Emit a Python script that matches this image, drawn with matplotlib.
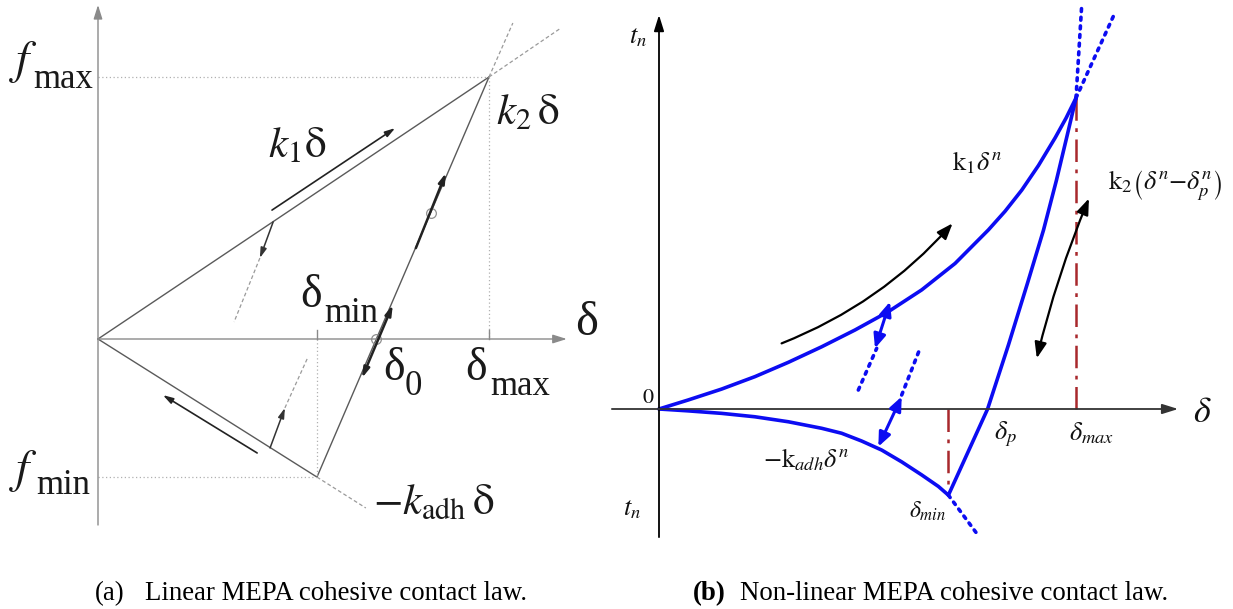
import matplotlib.pyplot as plt

plt.rcParams['mathtext.fontset'] = 'stix'
plt.rcParams['font.family'] = ['Liberation Serif', 'DejaVu Serif']

W, H = 1233, 609

# ---- panel (a): linear law, units delta_max = 1, f_max = 1
A_DMAX, A_FMAX = 1.0, 1.0
A_DMIN, A_FMIN = 0.560, -0.527
A_D0 = 0.712
A_K1_EXT = [1.184, 1.187]      # dashed continuation of k1 line
A_K2_EXT = [1.061, 1.206]      # dashed continuation of k2 line
A_ADH_EXT = [0.685, -0.645]    # dashed continuation of -k_adh line
A_UNLOAD = [[0.448, 0.414, 0.348], [0.447, 0.309, 0.065]]   # start, arrow tip, dashed end
A_RELOAD = [[0.440, 0.478, 0.537], [-0.416, -0.263, -0.069]]
A_K1_ARROW = [[0.445, 0.760], [0.492, 0.805]]
A_ADH_ARROW = [[0.407, 0.166], [-0.435, -0.214]]
A_K2_UP = [[0.813, 0.890], [0.347, 0.634]]
A_K2_LOW = [[0.675, 0.754], [-0.149, 0.130]]
A_CIRCLES = [[0.852, A_D0], [0.481, 0.0]]

# ---- panel (b): non-linear law, units delta_max = 1, t_max = 1
B_DP = 0.788
B_DMIN, B_TMIN = 0.694, -0.277
B_LOAD_D = [0.0, 0.070, 0.150, 0.230, 0.310, 0.390, 0.470, 0.550, 0.630, 0.710, 0.790, 0.830, 0.870, 0.910, 0.950, 0.976, 1.0]
B_LOAD_T = [0.0, 0.029, 0.064, 0.104, 0.150, 0.200, 0.254, 0.313, 0.383, 0.468, 0.576, 0.636, 0.704, 0.783, 0.872, 0.935, 1.0]
B_UNLOAD_D = [B_DMIN, B_DP, 0.838, 0.884, 0.922, 0.953, 0.978, 1.0]
B_UNLOAD_T = [B_TMIN, 0.0, 0.206, 0.406, 0.575, 0.735, 0.875, 1.0]
B_ADH_D = [0.0, 0.070, 0.150, 0.230, 0.310, 0.390, 0.438, 0.486, 0.534, 0.582, 0.630, 0.670, B_DMIN]
B_ADH_T = [0.0, -0.006, -0.014, -0.025, -0.041, -0.062, -0.078, -0.103, -0.132, -0.170, -0.212, -0.249, B_TMIN]
B_EXT_LOW = [0.763, -0.402]
B_EXT_UNLOAD = [1.014, 1.305]
B_EXT_LOAD = [1.091, 1.267]
B_DOT1 = [[0.478, 0.522], [0.061, 0.195]]
B_DOT2 = [[0.582, 0.626], [0.045, 0.195]]
B_DBL1 = [[0.554, 0.518], [0.345, 0.195]]
B_DBL2 = [[0.582, 0.526], [0.040, -0.121]]
B_LOAD_ARROW = [[0.294, 0.704], [0.211, 0.597]]
B_UNLOAD_ARROW = [[1.031, 0.906], [0.677, 0.163]]

fig = plt.figure(figsize=(W / 100, H / 100), dpi=100)


def pixel_axes(x0, y0, x1, y1, ox, oy, ux, uy):
    ax = fig.add_axes([x0 / W, 1 - y1 / H, (x1 - x0) / W, (y1 - y0) / H])
    ax.set_xlim((x0 - ox) / ux, (x1 - ox) / ux)
    ax.set_ylim((oy - y1) / uy, (oy - y0) / uy)
    ax.axis('off')
    return ax


def arrow(ax, start, end, style='-|>', color='k', lw=1.2, ms=10, rad=0.0):
    ax.annotate('', xy=end, xytext=start,
                arrowprops=dict(arrowstyle=style, color=color, lw=lw, mutation_scale=ms,
                                shrinkA=0, shrinkB=0,
                                connectionstyle=f'arc3,rad={rad}'))


def label(px, py, s, size, **kw):
    # figure-level label placed at a pixel position (left, baseline)
    fig.text(px / W, 1 - py / H, s, fontsize=size, ha='left', va='baseline', color='#1a1a1a', **kw)


# ================= panel (a) =================
ax = pixel_axes(0, 0, 610, 545, 98, 339, 391, 262)
gray, dgray = '#8a8a8a', '#5a5a5a'

arrow(ax, (0, -0.710), (0, 1.275), style='-|>,head_length=0.7,head_width=0.22', color=gray, lw=1.0, ms=12)
arrow(ax, (0, 0), (1.199, 0), style='-|>,head_length=0.7,head_width=0.22', color=gray, lw=1.0, ms=12)

ax.plot([0, A_DMAX], [0, A_FMAX], color=dgray, lw=1.0)
ax.plot([A_DMIN, A_DMAX], [A_FMIN, A_FMAX], color=dgray, lw=1.0)
ax.plot([0, A_DMIN], [0, A_FMIN], color=dgray, lw=1.0)

dash = dict(color='#9a9a9a', lw=0.9, ls=(0, (3, 2)))
ax.plot([A_DMAX, A_K1_EXT[0]], [A_FMAX, A_K1_EXT[1]], **dash)
ax.plot([A_DMAX, A_K2_EXT[0]], [A_FMAX, A_K2_EXT[1]], **dash)
ax.plot([A_DMIN, A_ADH_EXT[0]], [A_FMIN, A_ADH_EXT[1]], **dash)
ax.plot(A_UNLOAD[0][1:], A_UNLOAD[1][1:], **dash)
ax.plot(A_RELOAD[0][1:], A_RELOAD[1][1:], **dash)

dot = dict(color='#b0b0b0', lw=0.9, ls=(0, (1, 2)))
ax.plot([0, A_DMAX], [A_FMAX, A_FMAX], **dot)
ax.plot([A_DMAX, A_DMAX], [A_FMAX, 0], **dot)
ax.plot([0, A_DMIN], [A_FMIN, A_FMIN], **dot)
ax.plot([A_DMIN, A_DMIN], [0, A_FMIN], **dot)
for d in (A_DMIN, A_DMAX):
    ax.plot([d, d], [0, 0.034], color=gray, lw=1.0)

ax.plot(A_CIRCLES[0], A_CIRCLES[1], 'o', mfc='none', mec='#909090', ms=7, mew=0.9)

hs = '-|>,head_length=0.6,head_width=0.18'
arrow(ax, (A_UNLOAD[0][0], A_UNLOAD[1][0]), (A_UNLOAD[0][1], A_UNLOAD[1][1]), style=hs, color='#333', lw=1.1)
arrow(ax, (A_RELOAD[0][0], A_RELOAD[1][0]), (A_RELOAD[0][1], A_RELOAD[1][1]), style=hs, color='#333', lw=1.1)
arrow(ax, (A_K1_ARROW[0][0], A_K1_ARROW[1][0]), (A_K1_ARROW[0][1], A_K1_ARROW[1][1]), style=hs, color='#222', lw=1.2)
arrow(ax, (A_ADH_ARROW[0][0], A_ADH_ARROW[1][0]), (A_ADH_ARROW[0][1], A_ADH_ARROW[1][1]), style=hs, color='#222', lw=1.2)
arrow(ax, (A_K2_UP[0][0], A_K2_UP[1][0]), (A_K2_UP[0][1], A_K2_UP[1][1]), style=hs, color='#222', lw=1.8)
arrow(ax, (A_K2_LOW[0][0], A_K2_LOW[1][0]), (A_K2_LOW[0][1], A_K2_LOW[1][1]),
      style='<|-|>,head_length=0.6,head_width=0.18', color='#222', lw=1.8)

label(9, 73, r'$f$', 34)
label(33, 88, 'max', 25)
label(9, 482, r'$f$', 34)
label(36, 494, 'min', 25)
label(300, 307, 'δ', 33)
label(324, 322, 'min', 25)
label(383, 380, 'δ', 33)
label(405, 395, '0', 25)
label(465, 380, 'δ', 33)
label(490, 395, 'max', 25)
label(575, 335, 'δ', 35)
label(268, 157, r'$k_{1}\mathrm{\delta}$', 31)
label(496, 124, r'$k_{2}\,\mathrm{\delta}$', 31)
label(373, 514, r'$-k_{\mathrm{adh}}\,\mathrm{\delta}$', 31)

# ================= panel (b) =================
bx = pixel_axes(600, 0, 1233, 545, 659, 409, 417, 311)
blue, red = '#0c0cf2', '#a8282c'

arrow(bx, (0, -0.412), (0, 1.267), style='-|>,head_length=0.8,head_width=0.25', lw=1.3, ms=12)
arrow(bx, (-0.113, 0), (1.245, 0), style='-|>,head_length=0.8,head_width=0.25', color='#333', lw=1.3, ms=12)

dashdot = dict(color=red, lw=1.8, ls=(0, (9, 3, 1.5, 3)))
bx.plot([1.0, 1.0], [0, 1.0], **dashdot)
bx.plot([B_DMIN, B_DMIN], [0, B_TMIN], **dashdot)

curve = dict(color=blue, lw=2.6, solid_joinstyle='round', solid_capstyle='round')
bx.plot(B_LOAD_D, B_LOAD_T, **curve)
bx.plot(B_UNLOAD_D, B_UNLOAD_T, **curve)
bx.plot(B_ADH_D, B_ADH_T, **curve)

bdot = dict(color=blue, lw=2.6, ls=(0, (0.8, 1.6)), dash_capstyle='round')
bx.plot([B_DMIN, B_EXT_LOW[0]], [B_TMIN, B_EXT_LOW[1]], **bdot)
bx.plot([1.0, B_EXT_UNLOAD[0]], [1.0, B_EXT_UNLOAD[1]], **bdot)
bx.plot([1.0, B_EXT_LOAD[0]], [1.0, B_EXT_LOAD[1]], **bdot)
bx.plot(B_DOT1[0], B_DOT1[1], **bdot)
bx.plot(B_DOT2[0], B_DOT2[1], **bdot)

dbl = '<|-|>,head_length=0.7,head_width=0.3'
arrow(bx, (B_DBL1[0][0], B_DBL1[1][0]), (B_DBL1[0][1], B_DBL1[1][1]), style=dbl, color=blue, lw=2.2, ms=12)
arrow(bx, (B_DBL2[0][0], B_DBL2[1][0]), (B_DBL2[0][1], B_DBL2[1][1]), style=dbl, color=blue, lw=2.2, ms=12)
arrow(bx, (B_LOAD_ARROW[0][0], B_LOAD_ARROW[1][0]), (B_LOAD_ARROW[0][1], B_LOAD_ARROW[1][1]),
      style='-|>,head_length=0.8,head_width=0.3', lw=1.6, ms=12, rad=0.12)
arrow(bx, (B_UNLOAD_ARROW[0][0], B_UNLOAD_ARROW[1][0]), (B_UNLOAD_ARROW[0][1], B_UNLOAD_ARROW[1][1]),
      style='<|-|>,head_length=0.8,head_width=0.3', lw=1.6, ms=12, rad=0.04)

tb = dict(color='#111', ha='center', va='center')
bx.text(-0.050, 1.193, r'$t_n$', fontsize=19, **tb)
bx.text(-0.065, -0.325, r'$t_n$', fontsize=19, **tb)
bx.text(-0.026, 0.035, r'$\mathit{0}$', fontsize=16, **tb)
bx.text(0.763, 0.791, r'$\mathrm{k}_{\mathit{1}}\delta^{n}$', fontsize=19, **tb)
bx.text(1.213, 0.717, r'$\mathrm{k}_{\mathit{2}}\left(\delta^{n}{-}\delta_{p}^{n}\right)$', fontsize=19, **tb)
bx.text(0.353, -0.164, r'${-}\mathrm{k}_{\mathit{adh}}\delta^{n}$', fontsize=19, **tb)
bx.text(0.830, -0.080, r'$\delta_{p}$', fontsize=19, **tb)
bx.text(1.038, -0.077, r'$\delta_{max}$', fontsize=19, **tb)
bx.text(0.645, -0.328, r'$\delta_{min}$', fontsize=17, **tb)
bx.text(1.302, -0.013, r'$\delta$', fontsize=26, **tb)

# ================= captions =================
fig.text(95 / W, 1 - 594 / H, '(a)', fontsize=19.4, ha='left', va='center')
fig.text(145 / W, 1 - 594 / H, 'Linear MEPA cohesive contact law.', fontsize=19.4, ha='left', va='center')
fig.text(693 / W, 1 - 594 / H, '(b)', fontsize=19.4, fontweight='bold', ha='left', va='center')
fig.text(740 / W, 1 - 594 / H, 'Non-linear MEPA cohesive contact law.', fontsize=19.4, ha='left', va='center')

fig.savefig('out.png', dpi=100)
